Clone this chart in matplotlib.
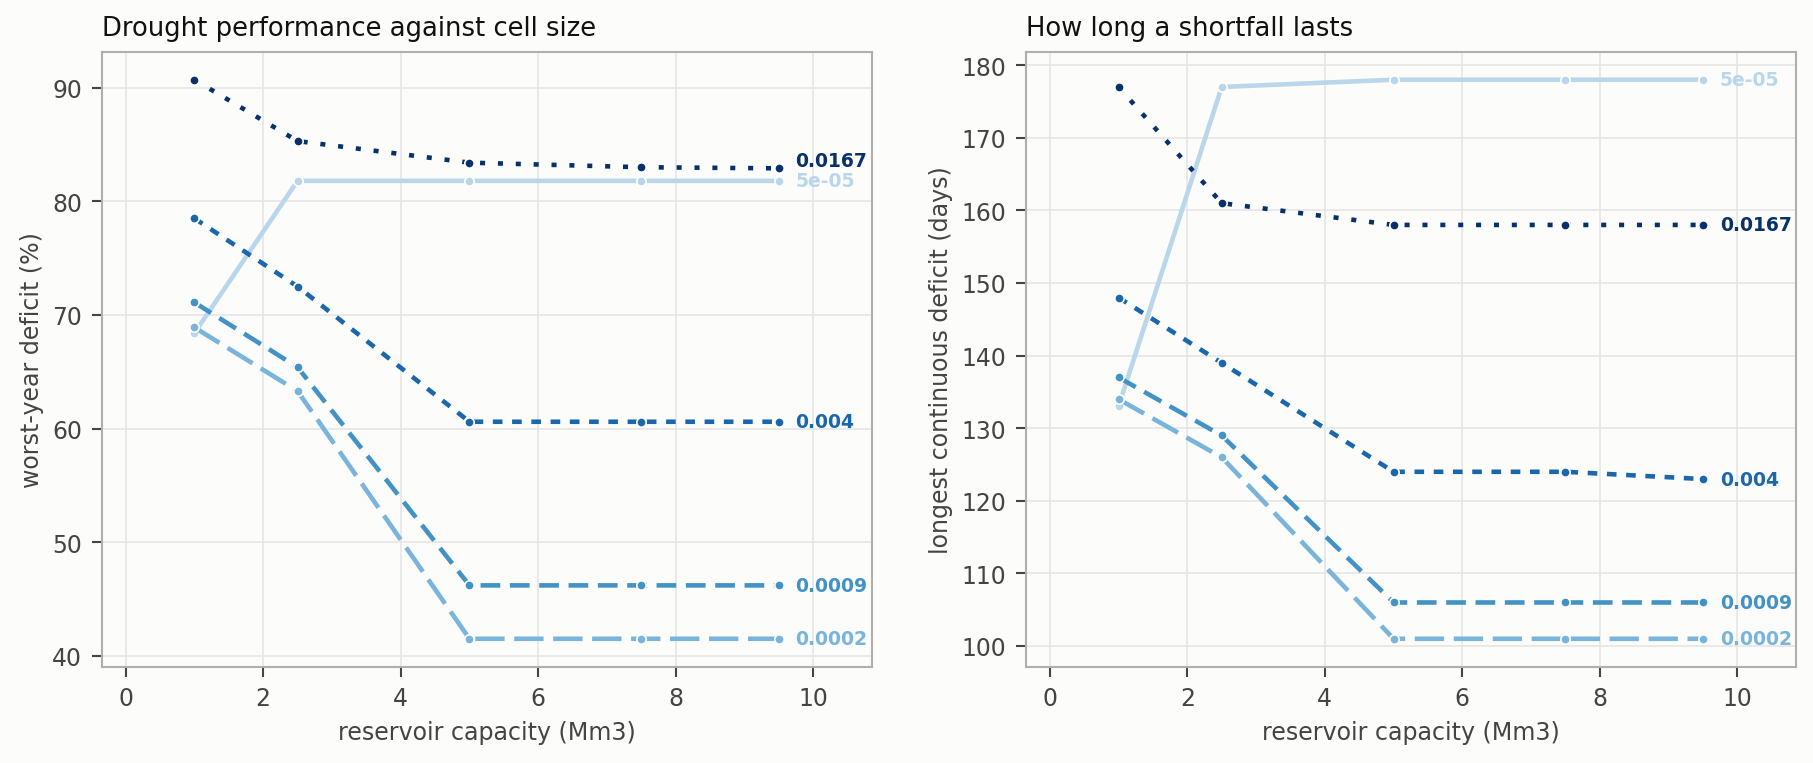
import matplotlib
matplotlib.use("Agg")
import matplotlib.pyplot as plt
import numpy as np

# reservoir capacity (Mm3) tested
capacity = [1.0, 2.5, 5.0, 7.5, 9.5]

# cell sizes (series labels)
cell_sizes = ["5e-05", "0.0002", "0.0009", "0.004", "0.0167"]

# worst-year deficit (%)
worst_5e05 = [68.4, 81.8, 81.8, 81.8, 81.8]
worst_0002 = [68.9, 63.3, 41.5, 41.5, 41.5]
worst_0009 = [71.1, 65.4, 46.2, 46.2, 46.2]
worst_004 = [78.5, 72.5, 60.6, 60.6, 60.6]
worst_0167 = [90.7, 85.3, 83.4, 83.0, 82.9]

# longest continuous deficit (days)
longest_5e05 = [133, 177, 178, 178, 178]
longest_0002 = [134, 126, 101, 101, 101]
longest_0009 = [137, 129, 106, 106, 106]
longest_004 = [148, 139, 124, 124, 123]
longest_0167 = [177, 161, 158, 158, 158]

colors = ["#bad6eb", "#78b4db", "#4292c6", "#1a67ad", "#08306b"]
dashes = [(), (6.4, 2.1), (4.3, 2.1), (2.1, 2.1), (1.1, 2.8)]

BG = "#fcfcfa"
TXT = "#444444"

plt.rcParams["font.family"] = ["DejaVu Sans"]


def draw_panel(ax, series, title, ylabel):
    ax.set_facecolor(BG)
    for vals, col, dash in zip(series, colors, dashes):
        ax.plot(capacity, vals, color=col, lw=2.2, dashes=dash,
                marker="o", markersize=4.5, markeredgecolor="white",
                markeredgewidth=0.8, zorder=3)
    ax.set_xlim(-0.35, 10.85)
    ax.set_xticks([0, 2, 4, 6, 8, 10])
    ax.grid(True, color="#e6e6e6", lw=0.8, zorder=0)
    ax.set_axisbelow(True)
    for sp in ax.spines.values():
        sp.set_color("#b3afa8")
        sp.set_linewidth(1.0)
    ax.tick_params(colors=TXT, labelsize=11.3, length=5, width=1, pad=4.5)
    ax.set_xlabel("reservoir capacity (Mm3)", fontsize=11.4, color=TXT,
                  labelpad=4.5)
    ax.set_ylabel(ylabel, fontsize=11.4, color=TXT, labelpad=4)
    ax.set_title(title, loc="left", fontsize=12.4, color="#111111", pad=8)

    # end labels, nudged apart where they would overlap
    lo, hi = ax.get_ylim()
    gap = 0.033 * (hi - lo)
    ends = sorted(zip([v[-1] for v in series], cell_sizes, colors))
    placed = []
    for y, lab, col in ends:
        if placed and y - placed[-1] < gap:
            y = placed[-1] + gap
        placed.append(y)
        ax.annotate(lab, xy=(capacity[-1], y), xytext=(8, 0),
                    textcoords="offset points", ha="left", va="center",
                    fontsize=9, fontweight="bold", color=col)


fig, (ax1, ax2) = plt.subplots(1, 2, figsize=(12.093, 5.093), dpi=150)
fig.patch.set_facecolor(BG)
fig.subplots_adjust(left=0.056, right=0.990, bottom=0.126, top=0.931,
                    wspace=0.2)

draw_panel(ax1, [worst_5e05, worst_0002, worst_0009, worst_004, worst_0167],
           "Drought performance against cell size", "worst-year deficit (%)")
draw_panel(ax2, [longest_5e05, longest_0002, longest_0009, longest_004,
                 longest_0167],
           "How long a shortfall lasts", "longest continuous deficit (days)")

fig.savefig("out.png", dpi=150, facecolor=BG)
